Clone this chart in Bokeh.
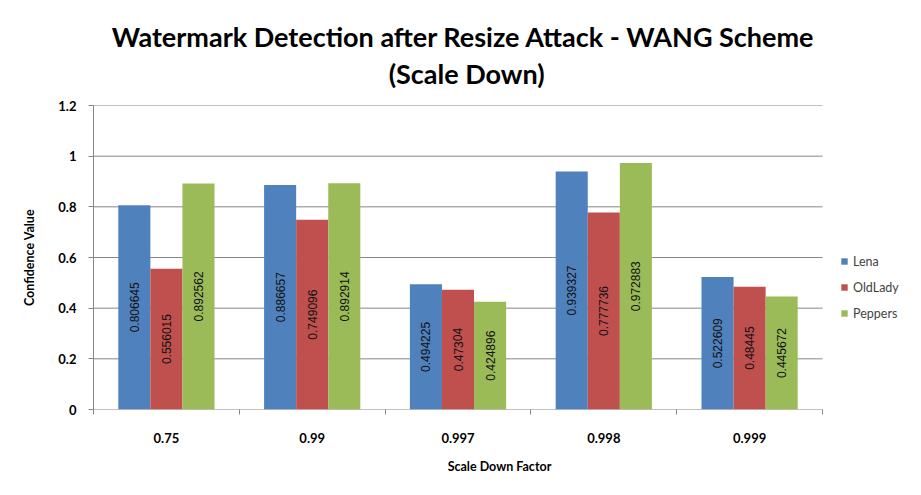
from bokeh.plotting import figure
from bokeh.models import (ColumnDataSource, FixedTicker, CustomJSTickFormatter, Legend,
                          LegendItem, Title, Range1d)
from bokeh.transform import dodge
from bokeh.embed import file_html
from bokeh.resources import INLINE
from bokeh.core.properties import value

factors = ["0.75", "0.99", "0.997", "0.998", "0.999"]
series_names = ["Lena", "OldLady", "Peppers"]
lena = [0.806645, 0.886657, 0.494225, 0.939327, 0.522609]
oldlady = [0.556015, 0.749096, 0.47304, 0.777736, 0.48445]
peppers = [0.892562, 0.892914, 0.424896, 0.972883, 0.445672]
y_ticks = [0, 0.2, 0.4, 0.6, 0.8, 1.0, 1.2]
colors = ["#4F81BD", "#C0504D", "#9BBB59"]
title_lines = ["Watermark Detection  after Resize Attack - WANG Scheme", "(Scale Down)"]

xs = [i + 0.5 for i in range(len(factors))]
data = dict(x=xs)
for name, vals in zip(series_names, [lena, oldlady, peppers]):
    data[name] = vals
    data[name + "_half"] = [v / 2 for v in vals]
    data[name + "_lbl"] = [str(v) for v in vals]
src = ColumnDataSource(data)

# plot area: categories occupy 729px of an 812px wide frame; the rest hosts the legend
x_end = len(factors) * 812 / 729
p = figure(width=905, height=479, output_backend="svg", toolbar_location=None,
           x_range=Range1d(0, x_end), y_range=Range1d(0, 1.2),
           min_border_left=93, min_border_right=0, min_border_top=105, min_border_bottom=70)
p.outline_line_color = None
p.background_fill_color = "white"
p.border_fill_color = "white"

gray = "#868686"
# horizontal gridlines (and x axis line at 0) spanning only the category area
grid_src = ColumnDataSource(dict(y=y_ticks, x0=[0] * len(y_ticks),
                                 x1=[len(factors)] * len(y_ticks)))
p.segment(x0="x0", x1="x1", y0="y", y1="y", source=grid_src, line_color=gray, line_width=1)

bw = 0.22
offsets = [-bw, 0, bw]
items = []
for name, col, off in zip(series_names, colors, offsets):
    r = p.vbar(x=dodge("x", off), top=name, width=bw, source=src,
               fill_color=col, line_color=None)
    p.text(x=dodge("x", off), y=name + "_half", text=name + "_lbl", source=src,
           angle=1.5708, text_align="center", text_baseline="middle",
           text_font=value("Liberation Sans"), text_font_size="12px", text_color="#111111")
    items.append(LegendItem(label=name, renderers=[r]))

# axes
xa = p.xaxis[0]
xa.ticker = FixedTicker(ticks=xs, minor_ticks=list(range(len(factors) + 1)))
xa.formatter = CustomJSTickFormatter(args=dict(labels=factors),
                                     code="return labels[Math.floor(tick)];")
xa.major_tick_out = 0
xa.major_tick_in = 0
xa.minor_tick_out = 5
xa.minor_tick_in = 0
xa.minor_tick_line_color = gray
xa.axis_line_color = None
xa.major_label_text_font = "Lato"
xa.major_label_text_font_style = "bold"
xa.major_label_text_font_size = "13px"
xa.major_label_text_color = "#000000"
xa.major_label_standoff = 18
xa.axis_label = "Scale Down Factor"
xa.axis_label_text_font = "Lato"
xa.axis_label_text_font_style = "bold"
xa.axis_label_text_font_size = "12.5px"
xa.axis_label_standoff = 13
xa.axis_label_text_color = "#000000"

ya = p.yaxis[0]
ya.ticker = FixedTicker(ticks=y_ticks)
ya.formatter = CustomJSTickFormatter(code="return tick.toFixed(1).replace(/\\.0$/, '');")
ya.major_tick_out = 5
ya.major_tick_in = 0
ya.minor_tick_out = 0
ya.minor_tick_in = 0
ya.major_tick_line_color = gray
ya.axis_line_color = gray
ya.major_label_text_font = "Lato"
ya.major_label_text_font_style = "bold"
ya.major_label_text_font_size = "13px"
ya.major_label_text_color = "#000000"
ya.major_label_standoff = 12
ya.axis_label = "Confidence Value"
ya.axis_label_text_font = "Lato"
ya.axis_label_text_font_style = "bold"
ya.axis_label_text_font_size = "12.5px"
ya.axis_label_standoff = 18
ya.axis_label_text_color = "#000000"

p.xgrid.grid_line_color = None
p.ygrid.grid_line_color = None

legend = Legend(items=items, location=(747, 86), glyph_width=8, glyph_height=8,
                label_text_font="Lato", label_text_font_size="12.5px", label_standoff=5,
                label_height=20, spacing=6, padding=0, margin=0,
                border_line_color=None, background_fill_alpha=0)
p.add_layout(legend)

# trailing non-breaking spaces shift the centred title left over the category area
pad = "\u00a0" * 10
title = Title(text="\n".join(line + pad for line in title_lines), align="center",
              text_align="center", text_font="Lato", text_font_size="27px",
              text_font_style="bold", text_color="#000000", text_line_height=1.15,
              standoff=30)
p.add_layout(title, "above")

open("out.html", "w").write(file_html(p, INLINE))
